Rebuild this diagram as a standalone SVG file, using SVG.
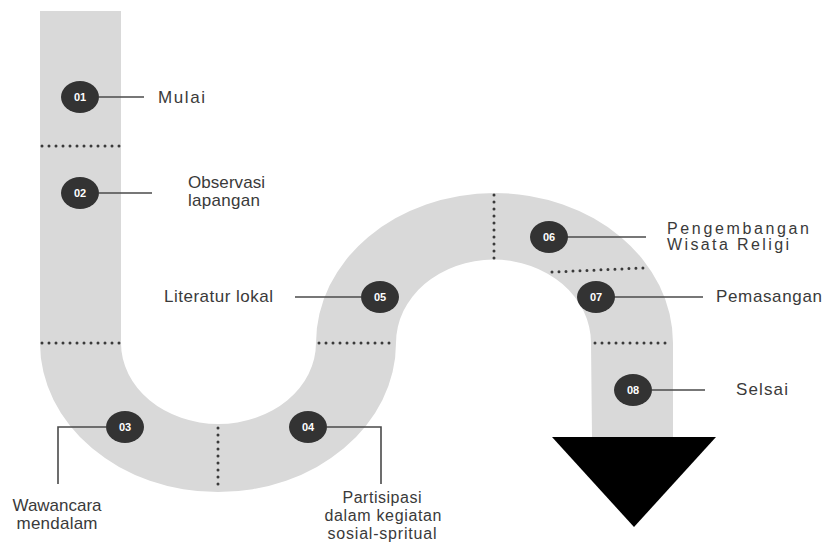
<svg xmlns="http://www.w3.org/2000/svg" width="829" height="542" viewBox="0 0 829 542">
<style>
.road{fill:#d9d9d9}
.dot{fill:none;stroke:#3a3a3a;stroke-width:3;stroke-linecap:round;stroke-dasharray:0 7}
.node ellipse{fill:#333333}
.num{font-family:"Liberation Sans",Arial,sans-serif;font-size:11px;font-weight:bold;fill:#ffffff;text-anchor:middle}
.lbl{font-family:"Liberation Sans",Arial,sans-serif;font-size:17px;fill:#3a3a3a}
.sm{font-size:16px}
.c{text-anchor:middle}
.conn{fill:none;stroke:#4a4a4a;stroke-width:1.6}
</style>
<rect width="829" height="542" fill="#ffffff"/>
<path class="road" d="M40,11 L40,343 A178,149 0 0 0 396,343 A97,83 0 0 1 591,343 L592,437 L673,437 L673,343 A178.5,150 0 0 0 316,343 A97.5,81 0 0 1 121,343 L121,11 Z"/>
<polygon points="552,437 716,437 634,527" fill="#000000"/>
<g id="dividers">
<line class="dot" x1="42" y1="146" x2="120" y2="146"/>
<line class="dot" x1="42" y1="343" x2="120" y2="343"/>
<line class="dot" x1="218" y1="428" x2="218" y2="491"/>
<line class="dot" x1="319" y1="343" x2="396" y2="343"/>
<line class="dot" x1="494" y1="195" x2="494" y2="260"/>
<line class="dot" x1="552" y1="272" x2="643" y2="268"/>
<line class="dot" x1="595" y1="343" x2="672" y2="343"/>
</g>
<g id="connectors">
<line class="conn" x1="99" y1="97" x2="144" y2="97"/>
<line class="conn" x1="99" y1="193" x2="152" y2="193"/>
<polyline class="conn" points="106,427 58,427 58,484"/>
<polyline class="conn" points="327,427 381,427 381,484"/>
<line class="conn" x1="361" y1="297" x2="295" y2="297"/>
<line class="conn" x1="567" y1="237" x2="646" y2="237"/>
<line class="conn" x1="614" y1="297" x2="703" y2="297"/>
<line class="conn" x1="652" y1="390" x2="705" y2="390"/>
</g>
<g id="n01" class="node"><ellipse cx="80" cy="97" rx="19" ry="16"/><text class="num" x="80" y="101">01</text><text class="lbl" x="158" y="103" textLength="47" lengthAdjust="spacing">Mulai</text></g>
<g id="n02" class="node"><ellipse cx="80" cy="193" rx="19" ry="16"/><text class="num" x="80" y="197">02</text><text class="lbl" x="188" y="188" textLength="77" lengthAdjust="spacing">Observasi</text><text class="lbl" x="188" y="206" textLength="72" lengthAdjust="spacing">lapangan</text></g>
<g id="n03" class="node"><ellipse cx="125" cy="427" rx="19" ry="16"/><text class="num" x="125" y="431">03</text><text class="lbl c" x="57" y="511" textLength="89" lengthAdjust="spacing">Wawancara</text><text class="lbl c" x="57" y="529" textLength="81" lengthAdjust="spacing">mendalam</text></g>
<g id="n04" class="node"><ellipse cx="308" cy="427" rx="19" ry="16"/><text class="num" x="308" y="431">04</text><text class="lbl c sm" x="382" y="503" textLength="79" lengthAdjust="spacing">Partisipasi</text><text class="lbl c sm" x="383" y="521" textLength="117" lengthAdjust="spacing">dalam kegiatan</text><text class="lbl c sm" x="382" y="539" textLength="109" lengthAdjust="spacing">sosial-spritual</text></g>
<g id="n05" class="node"><ellipse cx="380" cy="297" rx="19" ry="16"/><text class="num" x="380" y="301">05</text><text class="lbl" x="164" y="302" textLength="109" lengthAdjust="spacing">Literatur lokal</text></g>
<g id="n06" class="node"><ellipse cx="549" cy="237" rx="19" ry="16"/><text class="num" x="549" y="241">06</text><text class="lbl sm" x="667" y="234" textLength="142" lengthAdjust="spacing">Pengembangan</text><text class="lbl sm" x="667" y="250" textLength="122" lengthAdjust="spacing">Wisata Religi</text></g>
<g id="n07" class="node"><ellipse cx="596" cy="297" rx="19" ry="16"/><text class="num" x="596" y="301">07</text><text class="lbl" x="716" y="302" textLength="106" lengthAdjust="spacing">Pemasangan</text></g>
<g id="n08" class="node"><ellipse cx="633" cy="390" rx="19" ry="16"/><text class="num" x="633" y="394">08</text><text class="lbl" x="736" y="395" textLength="52" lengthAdjust="spacing">Selsai</text></g>
</svg>
